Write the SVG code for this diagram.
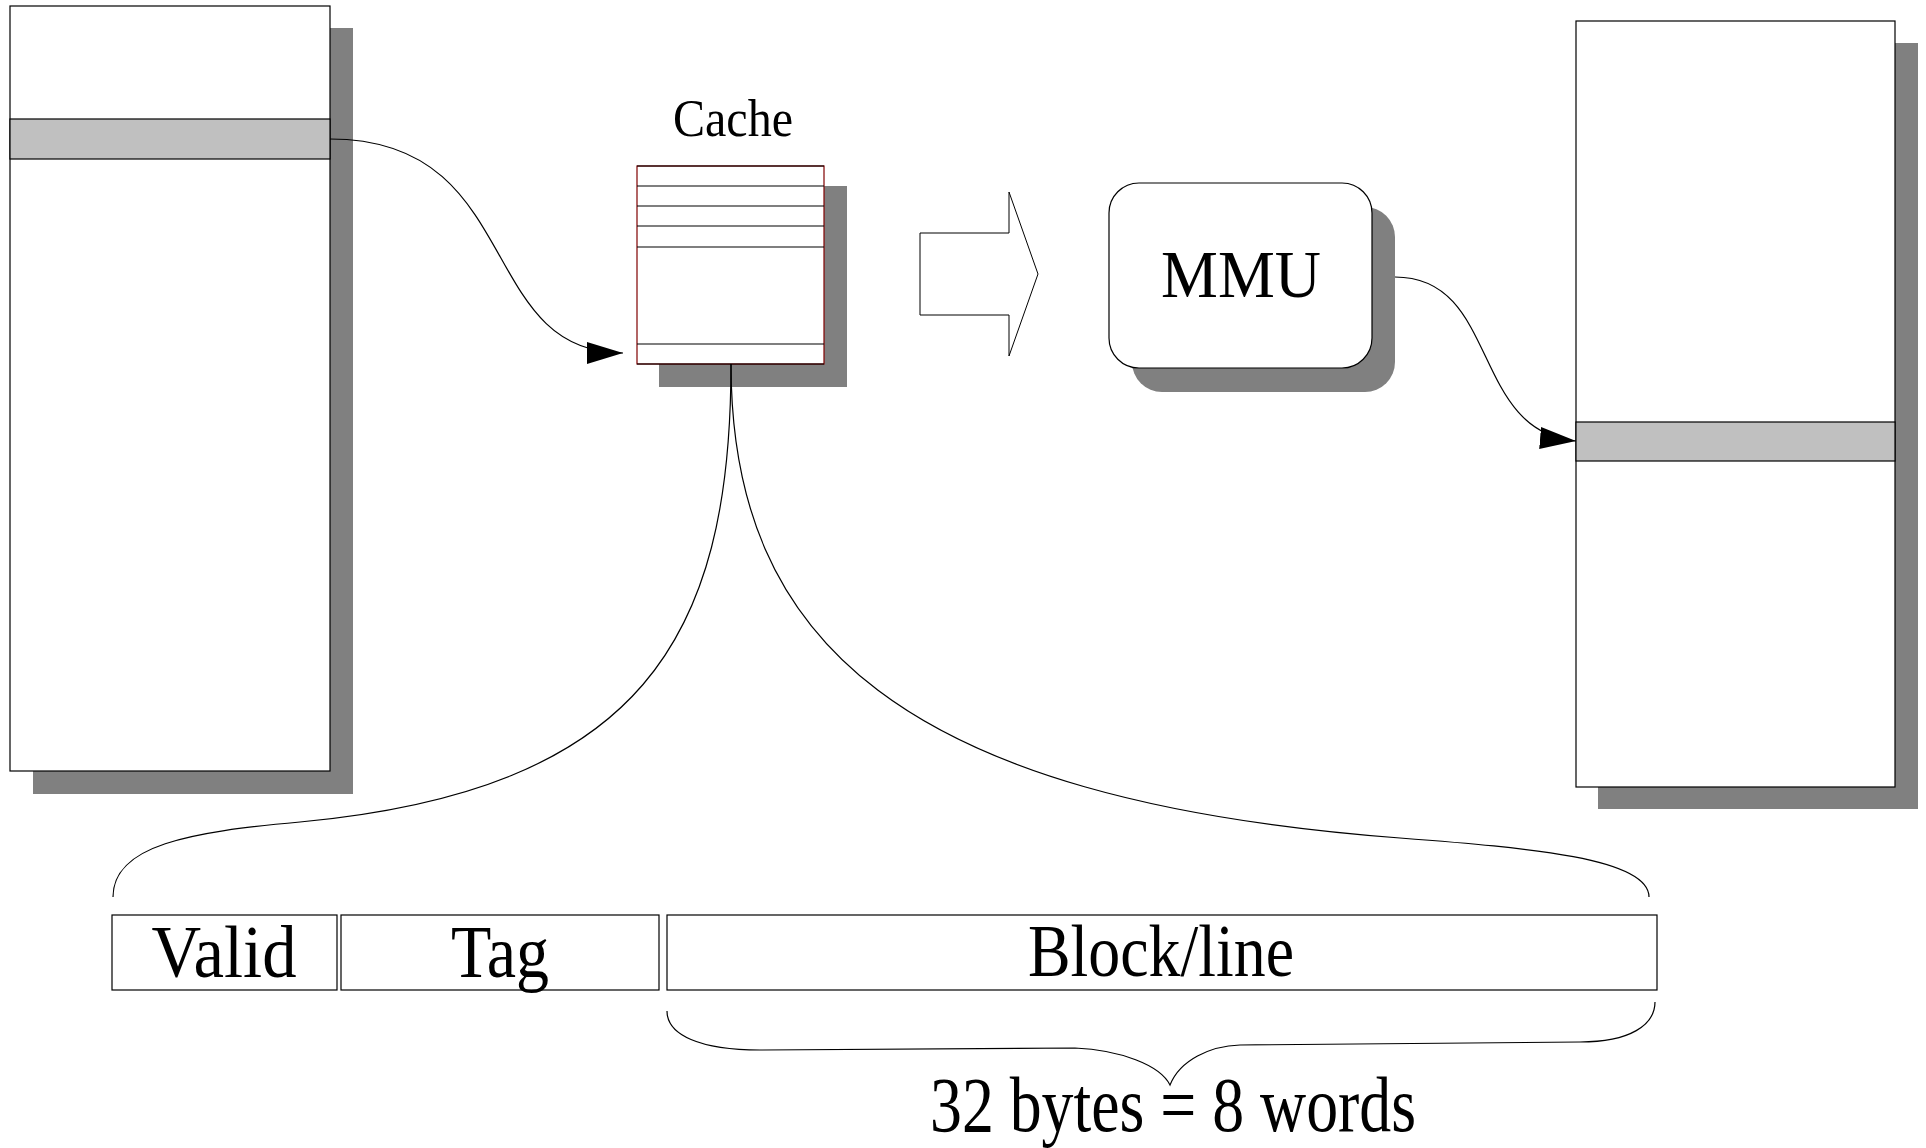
<svg xmlns="http://www.w3.org/2000/svg" width="1926" height="1148" viewBox="0 0 1926 1148">
<style>
.shadow{fill:#808080;stroke:none}
.box{fill:#ffffff;stroke:#000000;stroke-width:1.2}
.band{fill:#c0c0c0;stroke:#000000;stroke-width:1.2}
.row{fill:none;stroke:#000000;stroke-width:1.2}
.conn{fill:none;stroke:#000000;stroke-width:1.2}
.lbl{font-family:"Liberation Serif","Times New Roman",serif;fill:#000000;text-anchor:middle}
</style>
<defs>
<marker id="arrow" markerUnits="userSpaceOnUse" markerWidth="36" markerHeight="22" refX="36" refY="11" orient="auto">
<path d="M0,0 L36,11 L0,22 Z" fill="#000000"/>
</marker>
</defs>
<rect width="1926" height="1148" fill="#ffffff"/>

<g id="virtual-memory">
<rect class="shadow" x="33" y="28" width="320" height="766"/>
<rect class="box" x="10" y="6" width="320" height="765"/>
<rect class="band" x="10" y="119" width="320" height="40"/>
</g>

<g id="cache">
<text class="lbl" x="733" y="136" font-size="52" textLength="120" lengthAdjust="spacingAndGlyphs">Cache</text>
<rect class="shadow" x="659" y="186" width="188" height="201"/>
<rect x="637" y="166" width="187" height="198" fill="#ffffff" stroke="#800000" stroke-width="1.2"/>
<path class="row" d="M637,166 H824 M637,186 H824 M637,206 H824 M637,226 H824 M637,247 H824 M637,344 H824 M637,364 H824"/>
</g>

<g id="block-arrow">
<polygon points="920,233 1009,233 1009,192 1038,274 1009,356 1009,315 920,315" fill="#ffffff" stroke="#000000" stroke-width="1"/>
</g>

<g id="mmu">
<rect class="shadow" x="1132" y="207" width="263" height="185" rx="30" ry="30"/>
<rect class="box" x="1109" y="183" width="263" height="185" rx="30" ry="30"/>
<text class="lbl" x="1241" y="297" font-size="68" textLength="160" lengthAdjust="spacingAndGlyphs">MMU</text>
</g>

<g id="physical-memory">
<rect class="shadow" x="1598" y="43" width="320" height="766"/>
<rect class="box" x="1576" y="21" width="319" height="766"/>
<rect class="band" x="1576" y="422" width="319" height="39"/>
</g>

<g id="cache-line">
<rect class="box" x="112" y="915" width="225" height="75"/>
<text class="lbl" x="224" y="977" font-size="75" textLength="145" lengthAdjust="spacingAndGlyphs">Valid</text>
<rect class="box" x="341" y="915" width="318" height="75"/>
<text class="lbl" x="500" y="977" font-size="75" textLength="98" lengthAdjust="spacingAndGlyphs">Tag</text>
<rect class="box" x="667" y="915" width="990" height="75"/>
<text class="lbl" x="1161" y="976" font-size="75" textLength="266" lengthAdjust="spacingAndGlyphs">Block/line</text>
</g>

<g id="size-label">
<text class="lbl" x="1173" y="1131" font-size="79" textLength="486" lengthAdjust="spacingAndGlyphs">32 bytes = 8 words</text>
</g>

<g id="connectors">
<path class="conn" d="M330,139 C525,139 475,353 623,353" marker-end="url(#arrow)"/>
<path class="conn" d="M1395,277 C1500,277 1470,432 1576,441" marker-end="url(#arrow)"/>
<path class="conn" d="M731,364 C731,640 640,790 300,822 C190,832 113,845 113,897"/>
<path class="conn" d="M731,364 C731,640 900,800 1400,838 C1530,848 1649,858 1649,897"/>
<path class="conn" d="M667,1011 C667,1035 700,1050 760,1050 L1075,1048 C1120,1050 1160,1065 1170,1085 C1180,1060 1210,1046 1240,1045 L1580,1042 C1630,1042 1655,1025 1655,1002"/>
</g>
</svg>
